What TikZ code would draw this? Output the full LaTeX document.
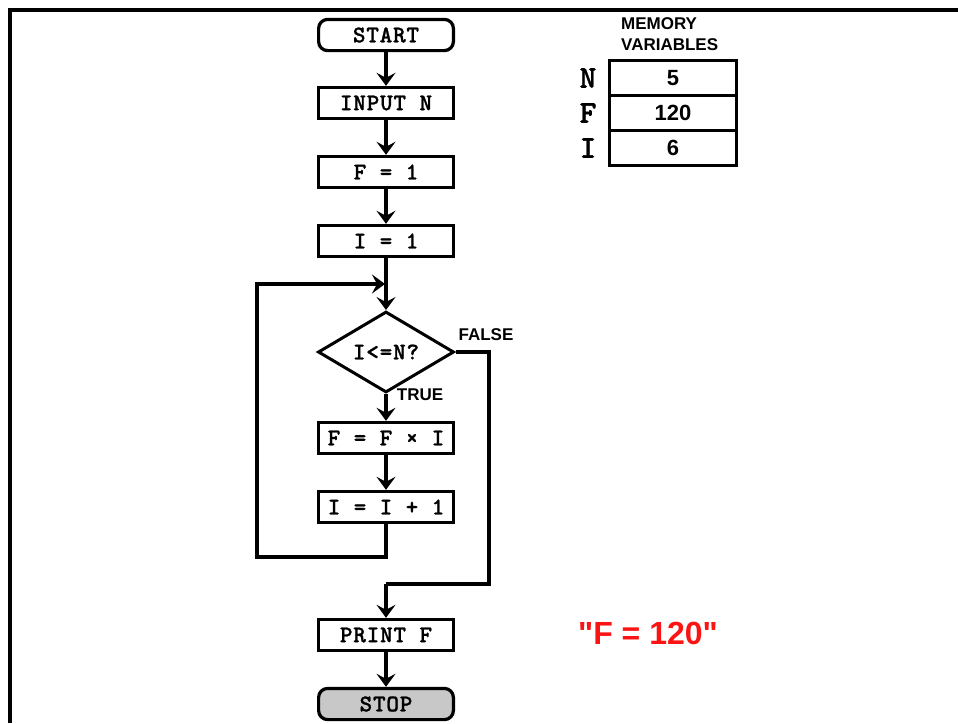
\documentclass[tikz,border=0pt]{standalone}
\usepackage{fontspec}
\setmainfont{Liberation Sans}
\newfontfamily\plainsans{Liberation Sans}
\newfontfamily\cour{lmmonolt10-bold}[Extension=.otf,FakeBold=1.0,LetterSpace=3.3]
\usetikzlibrary{arrows.meta,shapes.geometric}
\definecolor{stopgray}{RGB}{200,200,200}
\definecolor{resred}{RGB}{250,20,20}
\tikzset{
  boxfont/.style={font=\cour\fontsize{24}{26}\selectfont},
  box/.style={draw,line width=3.2pt,minimum width=134.8pt,minimum height=31.2pt,inner sep=0pt,boxfont},
  term/.style={box,rounded corners=9pt},
  decision/.style={draw,diamond,line width=3pt,minimum width=136pt,minimum height=68pt,inner sep=0pt,boxfont},
  flow/.style={line width=3.2pt,-{Stealth[length=13pt,width=19pt,inset=5pt]}},
  line/.style={line width=3.2pt},
  cell/.style={draw,line width=3.2pt,minimum width=127pt,minimum height=35pt,inner sep=0pt,font=\bfseries\fontsize{22}{24}\selectfont},
  varname/.style={font=\cour\fontsize{32}{34}\selectfont,inner sep=0pt},
  tag/.style={font=\bfseries\fontsize{17}{19}\selectfont,inner sep=0pt}
}
\begin{document}
\begin{tikzpicture}[x=1pt,y=-1pt]
\useasboundingbox (0,0) rectangle (958,723);
% frame
\coordinate (f0) at (10,723);
\coordinate (f1) at (10,10);
\coordinate (f2) at (958,10);
\draw[line width=3.2pt] (f0) -- (f1) -- (f2);
% flowchart
\node[term] (start) at (386,35) {START};
\node[box] (input) at (386,103) {INPUT N};
\node[box] (fone) at (386,172) {F = 1};
\node[box] (ione) at (386,241) {I = 1};
\node[decision] (dec) at (386,352) {I<=N?};
\node[box] (mul) at (386,438) {F = F × I};
\node[box] (inc) at (386,507) {I = I + 1};
\node[box] (print) at (386,635) {PRINT F};
\node[term,fill=stopgray] (stop) at (386,704) {STOP};
\draw[flow] (start) -- (input);
\draw[flow] (input) -- (fone);
\draw[flow] (fone) -- (ione);
\draw[flow] (ione) -- (dec);
\draw[flow] (dec) -- (mul);
\draw[flow] (mul) -- (inc);
\draw[flow] (print) -- (stop);
% loop back
\coordinate (lb) at (257,557);
\coordinate (lt) at (257,284);
\coordinate (lj) at (385,284);
\draw[flow] (inc.south) |- (lb) -- (lt) -- (lj);
% false branch
\coordinate (fr) at (489,584);
\coordinate (fl) at (386,584);
\draw[line] (dec.east) -| (fr) -- (fl);
\draw[flow] (fl) -- (print.north);
\node[tag] (false) at (486,335) {FALSE};
\node[tag] (true) at (420,395) {TRUE};
% memory table
\node[tag,align=left,anchor=north west,font=\bfseries\fontsize{17}{21}\selectfont] (mem) at (621,17) {MEMORY\\VARIABLES};
\node[cell] (cn) at (673,78) {5};
\node[cell] (cf) at (673,113) {120};
\node[cell] (ci) at (673,148) {6};
\node[varname] (ln) at (588,78) {N};
\node[varname] (lf) at (588,113) {F};
\node[varname] (li) at (588,148) {I};
% result
\node[font=\plainsans\bfseries\fontsize{32}{34}\selectfont,text=resred,inner sep=0pt] (res) at (648,633) {"F = 120"};
\end{tikzpicture}
\end{document}
